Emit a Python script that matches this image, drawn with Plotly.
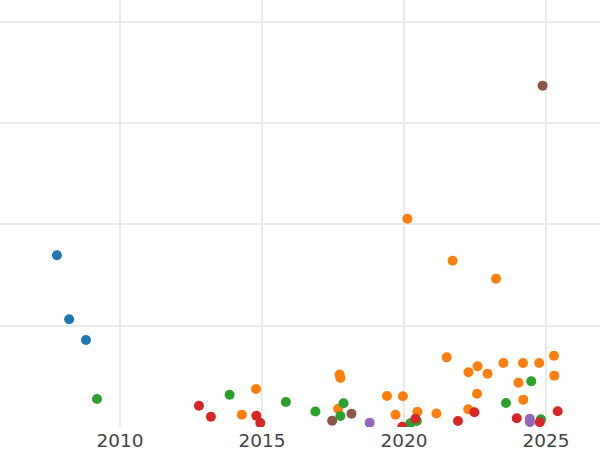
import plotly.graph_objects as go

# one list of years and values per group
blue_x = [2007.78, 2008.21, 2008.80]
blue_y = [169.6, 106.4, 85.9]

orange_x = [2014.79, 2014.29, 2017.73, 2017.76, 2017.68, 2019.40, 2019.96, 2019.70,
            2020.47, 2021.14, 2020.12, 2021.71, 2023.24, 2021.50, 2022.27, 2022.59,
            2022.94, 2023.50, 2022.26, 2022.57, 2024.03, 2024.19, 2024.20, 2024.76,
            2025.28, 2025.29]
orange_y = [37.5, 12.1, 51.9, 48.4, 18.0, 30.6, 30.3, 12.1,
            15.1, 13.3, 205.7, 164.2, 146.5, 68.8, 54.1, 60.0,
            52.6, 63.2, 17.5, 32.9, 43.8, 63.2, 27.0, 63.2,
            70.4, 50.7]

green_x = [2009.19, 2013.86, 2015.84, 2016.88, 2017.87, 2017.76, 2020.22, 2020.45,
           2023.59, 2024.48, 2024.82]
green_y = [27.7, 31.9, 24.7, 15.3, 23.4, 10.9, 3.7, 5.9,
           23.7, 45.1, 7.6]

red_x = [2012.78, 2013.20, 2014.80, 2014.94, 2019.94, 2020.40, 2021.90, 2022.48,
         2023.97, 2024.78, 2025.41]
red_y = [21.0, 10.2, 11.2, 4.0, 0.3, 8.2, 5.9, 14.5,
         8.6, 4.7, 15.5]

purple_x = [2018.79, 2024.43, 2024.43]
purple_y = [4.2, 8.2, 4.9]

brown_x = [2024.88, 2017.47, 2018.15]
brown_y = [337.1, 6.2, 13.1]

groups = [
    (blue_x, blue_y, '#1f77b4'),
    (orange_x, orange_y, '#ff7f0e'),
    (green_x, green_y, '#2ca02c'),
    (red_x, red_y, '#d62728'),
    (purple_x, purple_y, '#9467bd'),
    (brown_x, brown_y, '#8c564b'),
]

fig = go.Figure()
for xs, ys, color in groups:
    fig.add_trace(go.Scatter(x=xs, y=ys, mode='markers',
                             marker=dict(size=10, color=color),
                             showlegend=False))

fig.update_layout(
    width=600, height=450,
    margin=dict(l=0, r=0, t=0, b=23),
    plot_bgcolor='white', paper_bgcolor='white',
    font=dict(family='DejaVu Sans', size=18.5, color='#444444'))
fig.update_xaxes(range=[2005.775, 2026.90], dtick=5, tick0=2010,
                 showgrid=True, gridcolor='#ebebeb', gridwidth=2,
                 zeroline=False, showline=False, ticks='')
fig.update_yaxes(range=[0, 421.7], dtick=100, tick0=0,
                 showgrid=True, gridcolor='#ebebeb', gridwidth=2,
                 zeroline=False, showline=False, showticklabels=False, ticks='')

# drop the page's default body margin so the chart sits at the corner
fig.write_html("out.html", config={'displayModeBar': False},
               post_script="document.body.style.margin='0';")
